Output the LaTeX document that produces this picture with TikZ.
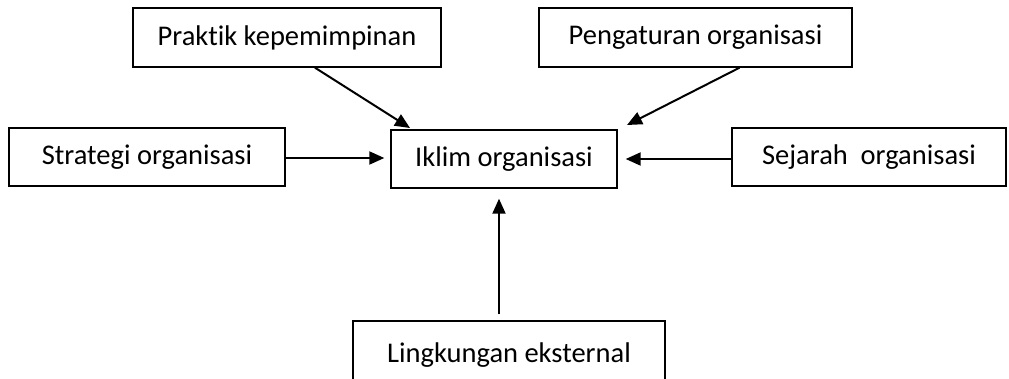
\documentclass[tikz,border=0pt]{standalone}
\usepackage{fontspec}
\setmainfont{Carlito}[Ligatures=NoCommon]
\usetikzlibrary{arrows.meta,calc}
\begin{document}
\begin{tikzpicture}[x=1pt,y=-1pt,
  box/.style={draw,line width=1.4pt,inner sep=0pt,font=\fontsize{28.5}{32}\selectfont},
  conn/.style={line width=2pt,-{Triangle[length=15pt,width=13pt]}}]
\useasboundingbox (0,0) rectangle (1009,378);
\clip (0,0) rectangle (1009,378);
\node[box,minimum width=308pt,minimum height=59pt] (praktik) at (287,37.5) {Praktik kepemimpinan};
\node[box,minimum width=313pt,minimum height=59pt] (pengaturan) at (695.5,37.5) {Pengaturan organisasi};
\node[box,minimum width=276pt,minimum height=58pt] (strategi) at (147,157) {Strategi organisasi};
\node[box,minimum width=226pt,minimum height=58pt] (iklim) at (504,159) {Iklim organisasi};
\node[box,minimum width=274pt,minimum height=58pt] (sejarah) at (869,157) {Sejarah\ \ organisasi};
\node[box,minimum width=312pt,minimum height=64pt,text depth=0pt] (lingkungan) at (509,353) {Lingkungan eksternal};
\coordinate (t1) at (410,128);
\coordinate (t2) at (627,125);
\coordinate (t3) at ($(iklim.west)+(-6,-1)$);
\coordinate (t4) at ($(iklim.east)+(8,0)$);
\draw[conn] ($(praktik.south)+(28,0)$) -- (t1);
\draw[conn] ($(pengaturan.south)+(44,0)$) -- (t2);
\draw[conn] (strategi.east |- t3) -- (t3);
\draw[conn] (sejarah.west |- t4) -- (t4);
\draw[conn] ($(lingkungan.north)+(-10,-6)$) -- ($(iklim.south)+(-5,10)$);
\end{tikzpicture}
\end{document}
